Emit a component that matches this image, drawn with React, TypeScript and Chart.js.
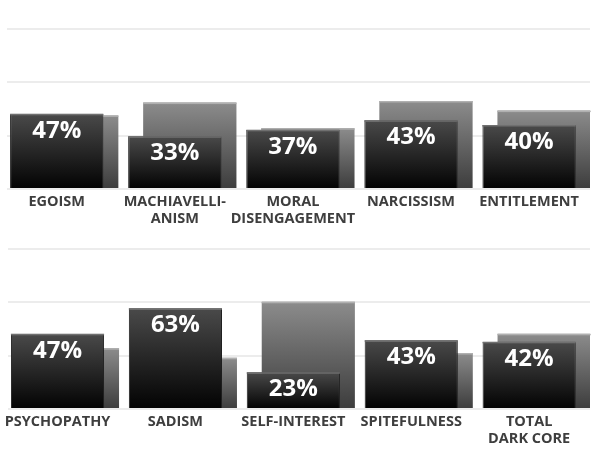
import React, { useEffect, useRef } from "react";
import { Chart, registerables } from "chart.js";

Chart.register(...registerables);

const CATEGORIES_TOP: (string | string[])[] = [
  "EGOISM",
  ["MACHIAVELLI-", "ANISM"],
  ["MORAL", "DISENGAGEMENT"],
  "NARCISSISM",
  "ENTITLEMENT",
];
const FRONT_TOP = [0.47, 0.33, 0.37, 0.43, 0.4];
const BACK_TOP = [0.46, 0.54, 0.38, 0.55, 0.49];

const CATEGORIES_BOTTOM: (string | string[])[] = [
  "PSYCHOPATHY",
  "SADISM",
  "SELF-INTEREST",
  "SPITEFULNESS",
  ["TOTAL", "DARK CORE"],
];
const FRONT_BOTTOM = [0.47, 0.63, 0.23, 0.43, 0.42];
const BACK_BOTTOM = [0.38, 0.32, 0.67, 0.35, 0.47];

const GRID_TICKS = [0, 1 / 3, 2 / 3, 1];

const FONT = "'Open Sans', 'DejaVu Sans', sans-serif";

function barGradient(ctx: any, top: string, bottom: string) {
  const chart = ctx.chart;
  if (!chart.chartArea || !ctx.raw) return bottom;
  const y = chart.scales.y;
  const y0 = y.getPixelForValue(ctx.raw.y);
  const y1 = y.getPixelForValue(0);
  if (!isFinite(y0) || !isFinite(y1) || y0 === y1) return bottom;
  const g = chart.ctx.createLinearGradient(0, y0, 0, y1);
  g.addColorStop(0, top);
  g.addColorStop(1, bottom);
  return g;
}

const decorPlugin = {
  id: "decor",
  afterDatasetDraw(chart: any, args: any) {
    const ctx = chart.ctx;
    const idx = args.index;
    ctx.save();
    args.meta.data.forEach((bar: any) => {
      const { x, y, width } = bar.getProps(["x", "y", "width"], true);
      ctx.fillStyle = idx === 0 ? "#707070" : "#b0b0b0";
      ctx.fillRect(x - width / 2, y, width, 1.5);
    });
    if (idx === 0) {
      const ds = chart.data.datasets[0];
      ctx.fillStyle = "#ffffff";
      ctx.font = `bold 24px ${FONT}`;
      ctx.textAlign = "center";
      ctx.textBaseline = "middle";
      args.meta.data.forEach((bar: any, i: number) => {
        const { x, y } = bar.getProps(["x", "y"], true);
        const v = ds.data[i].y;
        ctx.fillText(`${Math.round(v * 100)}%`, x, y + 17);
      });
    }
    ctx.restore();
  },
};

function BarRow(props: {
  categories: (string | string[])[];
  front: number[];
  back: number[];
  height: number;
  padTop: number;
  padBottom: number;
}) {
  const ref = useRef<HTMLCanvasElement>(null);
  useEffect(() => {
    if (!ref.current) return;
    const { categories, front, back } = props;
    const integerTicks = (axis: any) => {
      axis.ticks = categories.map((_, i) => ({ value: i }));
    };
    const chart = new Chart(ref.current, {
      type: "bar",
      data: {
        datasets: [
          {
            data: front.map((v, i) => ({ x: i, y: v })),
            xAxisID: "x",
            yAxisID: "y",
            backgroundColor: (c: any) => barGradient(c, "#4a4a4a", "#020202"),
            borderColor: "#1e1e1e",
            borderWidth: 1,
            borderSkipped: "bottom",
            categoryPercentage: 1,
            barPercentage: 0.79,
            grouped: false,
          },
          {
            data: back.map((v, i) => ({ x: i, y: v })),
            xAxisID: "x2",
            yAxisID: "y",
            backgroundColor: (c: any) => barGradient(c, "#8c8c8c", "#3c3c3c"),
            borderWidth: 0,
            categoryPercentage: 1,
            barPercentage: 0.79,
            grouped: false,
          },
        ],
      } as any,
      options: {
        animation: false,
        responsive: false,
        devicePixelRatio: 1,
        layout: {
          padding: { left: 7, right: 7, top: props.padTop, bottom: props.padBottom },
        },
        plugins: {
          legend: { display: false },
          tooltip: { enabled: false },
        },
        scales: {
          x: {
            type: "linear",
            position: "bottom",
            min: -0.421,
            max: 4.516,
            offset: false,
            grid: { display: false, drawTicks: false, offset: false },
            border: { display: false },
            afterBuildTicks: integerTicks,
            afterFit: (s: any) => {
              s.height = 46;
            },
            ticks: {
              autoSkip: false,
              maxRotation: 0,
              minRotation: 0,
              padding: 4,
              color: "#3e3e3e",
              font: { family: FONT, size: 14.5, weight: "bold", lineHeight: 1.2 },
              callback: (value: any) => categories[value as number] as any,
            },
          },
          x2: {
            type: "linear",
            position: "top",
            display: true,
            min: -0.548,
            max: 4.389,
            offset: false,
            grid: { display: false, drawTicks: false, offset: false },
            border: { display: false },
            ticks: { display: false },
            afterBuildTicks: integerTicks,
            afterFit: (s: any) => {
              s.height = 0;
            },
          },
          y: {
            min: 0,
            max: 1,
            grid: { color: "#ececec", lineWidth: 2, drawTicks: false },
            border: { display: false },
            afterBuildTicks: (axis: any) => {
              axis.ticks = GRID_TICKS.map((v) => ({ value: v }));
            },
            afterFit: (s: any) => {
              s.width = 0;
            },
            ticks: { display: false },
          },
        },
      } as any,
      plugins: [decorPlugin],
    });
    return () => chart.destroy();
  }, []);
  return (
    <canvas
      ref={ref}
      width={597}
      height={props.height}
      style={{ display: "block", width: 597, height: props.height }}
    />
  );
}

export default function App() {
  return (
    <div
      style={{
        position: "absolute",
        left: 0,
        top: 0,
        width: 597,
        height: 470,
        background: "#ffffff",
      }}
    >
      <BarRow
        categories={CATEGORIES_TOP}
        front={FRONT_TOP}
        back={BACK_TOP}
        height={235}
        padTop={29}
        padBottom={0}
      />
      <BarRow
        categories={CATEGORIES_BOTTOM}
        front={FRONT_BOTTOM}
        back={BACK_BOTTOM}
        height={235}
        padTop={14}
        padBottom={15}
      />
    </div>
  );
}
